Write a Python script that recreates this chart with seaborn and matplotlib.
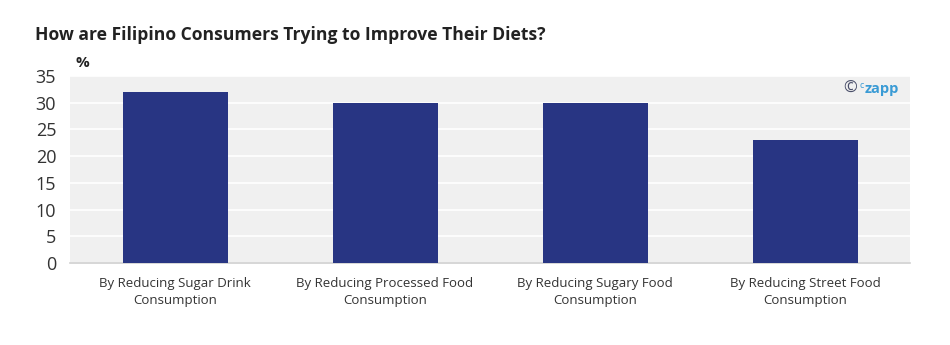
import matplotlib
matplotlib.use("Agg")
import matplotlib.pyplot as plt
import seaborn as sns
import pandas as pd

categories = ["By Reducing Sugar Drink\nConsumption",
              "By Reducing Processed Food\nConsumption",
              "By Reducing Sugary Food\nConsumption",
              "By Reducing Street Food\nConsumption"]
values = [32, 30, 30, 23]
yticks = [0, 5, 10, 15, 20, 25, 30, 35]

sns.set_theme(style="white")
plt.rcParams['font.family'] = ['Open Sans', 'DejaVu Sans']

df = pd.DataFrame({"cat": categories, "val": values})

fig = plt.figure(figsize=(9.5, 3.45), dpi=100)
ax = fig.add_axes([0.0737, 0.2377, 0.8843, 0.542])
ax.set_facecolor("#f0f0f0")
sns.barplot(data=df, x="cat", y="val", color="#283583", width=0.5, ax=ax,
            saturation=1, zorder=3, linewidth=0)
ax.set_ylim(0, 35)
ax.set_yticks(yticks)
ax.set_yticklabels([str(t) for t in yticks], fontsize=13, color="#333333")
ax.yaxis.grid(True, color="white", linewidth=1.2, zorder=0)
ax.set_axisbelow(True)
ax.tick_params(axis="x", labelsize=9.5, colors="#333333", length=0, pad=10)
for lbl in ax.get_xticklabels():
    lbl.set_linespacing(1.45)
ax.tick_params(axis="y", length=0, pad=10)
ax.set_xlabel("")
ax.set_ylabel("")
for s in ["top", "right", "left"]:
    ax.spines[s].set_visible(False)
ax.spines["bottom"].set_color("#d0d0d0")
ax.spines["bottom"].set_linewidth(1.2)

fig.text(35 / 950, 1 - 35 / 345, "How are Filipino Consumers Trying to Improve Their Diets?",
         fontsize=12.6, fontweight="bold", color="#222222", va="center", ha="left")
fig.text(75 / 950, 1 - 63 / 345, "%", fontsize=11, fontweight="bold", color="#222222",
         va="center", ha="left")
fig.text(843 / 950, 1 - 89 / 345, "©", fontsize=12, color="#4a4f6a", va="center", ha="left")
fig.text(859 / 950, 1 - 86 / 345, "c", fontsize=6.5, color="#3a9bd5", va="center", ha="left")
fig.text(865 / 950, 1 - 89 / 345, "zapp", fontsize=10.5, fontweight="bold", color="#3a9bd5",
         va="center", ha="left")

fig.savefig("out.png", dpi=100, facecolor="white")
